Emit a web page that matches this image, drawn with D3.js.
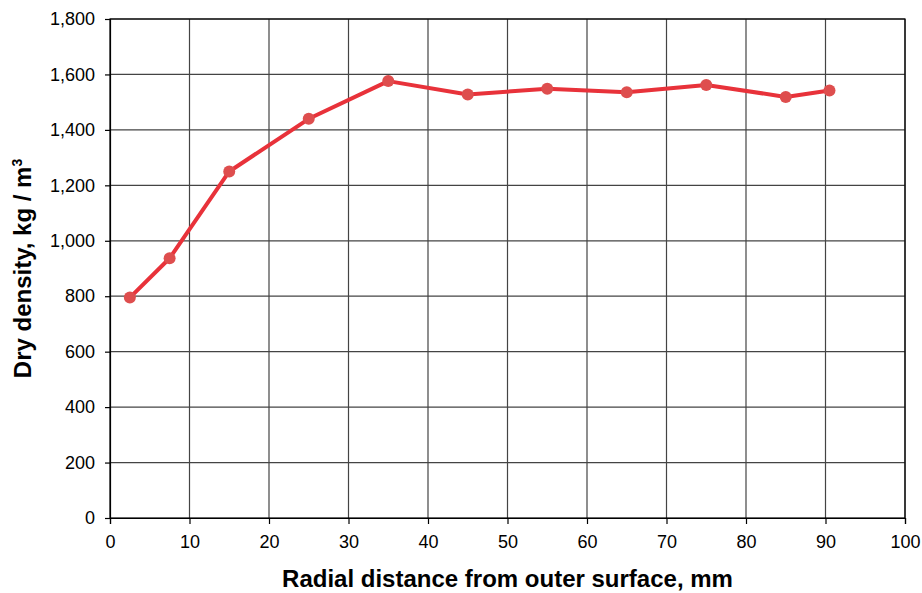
<!DOCTYPE html>
<html>
<head>
<meta charset="utf-8">
<script src="https://cdn.jsdelivr.net/npm/d3@7"></script>
<style>
  body { margin: 0; background: #fff; }
  text { font-family: "Liberation Sans", Arial, sans-serif; }
</style>
</head>
<body>
<script>
// data
const distance = [2.5, 7.5, 15, 25, 35, 45, 55, 65, 75, 85, 90.5];
const density = [795, 937, 1250, 1440, 1576, 1528, 1548, 1536, 1562, 1519, 1542];
const xTicks = [0, 10, 20, 30, 40, 50, 60, 70, 80, 90, 100];
const yTicks = [0, 200, 400, 600, 800, 1000, 1200, 1400, 1600, 1800];

// set the dimensions and margins of the graph
const margin = { top: 19, right: 17, bottom: 75, left: 110 };
const width = 922 - margin.left - margin.right;
const height = 593 - margin.top - margin.bottom;

const x = d3.scaleLinear().domain([0, 100]).range([0, width]);
const y = d3.scaleLinear().domain([0, 1800]).range([height, 0]);

const svg = d3.select('body')
  .append('svg')
  .attr('width', 922)
  .attr('height', 593);

const g = svg.append('g')
  .attr('transform', `translate(${margin.left},${margin.top})`);

// gridlines
g.append('g')
  .selectAll('line.h')
  .data(yTicks.slice(1))
  .enter()
  .append('line')
  .attr('x1', 0)
  .attr('x2', width)
  .attr('y1', d => y(d))
  .attr('y2', d => y(d))
  .attr('stroke', '#444')
  .attr('stroke-width', 1.2);

g.append('g')
  .selectAll('line.v')
  .data(xTicks.slice(1))
  .enter()
  .append('line')
  .attr('y1', 0)
  .attr('y2', height)
  .attr('x1', d => x(d))
  .attr('x2', d => x(d))
  .attr('stroke', '#444')
  .attr('stroke-width', 1.2);

// frame
g.append('rect')
  .attr('width', width)
  .attr('height', height)
  .attr('fill', 'none')
  .attr('stroke', '#000')
  .attr('stroke-width', 1.2);

// axes
const xAxis = g.append('g')
  .attr('transform', `translate(0,${height})`)
  .call(d3.axisBottom(x).tickValues(xTicks).tickSize(6).tickPadding(11).tickFormat(d3.format('d')));

const yAxis = g.append('g')
  .call(d3.axisLeft(y).tickValues(yTicks).tickSize(5).tickPadding(10).tickFormat(d3.format(',')));

[xAxis, yAxis].forEach(a => {
  a.select('.domain').attr('stroke', '#000').attr('stroke-width', 1.2);
  a.selectAll('.tick line').attr('stroke', '#000').attr('stroke-width', 1.2);
  a.selectAll('.tick text')
    .attr('fill', '#000')
    .style('font-size', '18px')
    .style('font-family', '"Liberation Sans", Arial, sans-serif');
});

// the line
const pts = distance.map((d, i) => ({ d, v: density[i] }));

g.append('path')
  .datum(pts)
  .attr('fill', 'none')
  .attr('stroke', '#e8323a')
  .attr('stroke-width', 4)
  .attr('stroke-linejoin', 'round')
  .attr('d', d3.line().x(p => x(p.d)).y(p => y(p.v)));

g.selectAll('circle')
  .data(pts)
  .enter()
  .append('circle')
  .attr('cx', p => x(p.d))
  .attr('cy', p => y(p.v))
  .attr('r', 6)
  .attr('fill', '#de4e4e');

// axis titles
svg.append('text')
  .attr('x', margin.left + width / 2)
  .attr('y', 587)
  .attr('text-anchor', 'middle')
  .style('font-size', '24px')
  .style('font-weight', 'bold')
  .text('Radial distance from outer surface, mm');

svg.append('text')
  .attr('transform', `translate(31,${margin.top + height / 2}) rotate(-90)`)
  .attr('text-anchor', 'middle')
  .style('font-size', '24px')
  .style('font-weight', 'bold')
  .html('Dry density, kg / m<tspan dy="-9" font-size="14px">3</tspan>');
</script>
</body>
</html>
